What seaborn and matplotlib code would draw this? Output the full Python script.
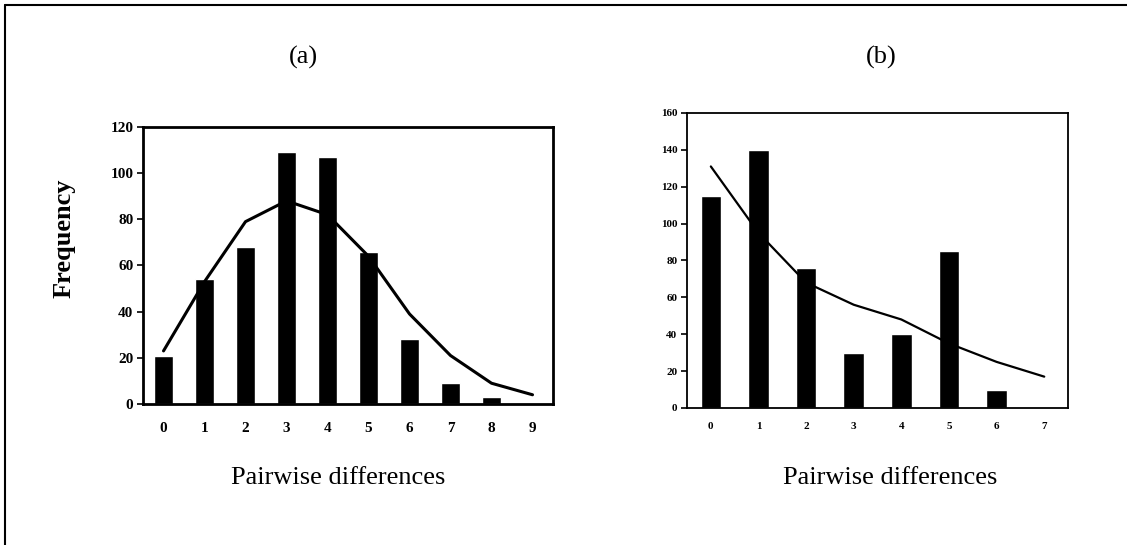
import matplotlib
matplotlib.use("Agg")
import matplotlib.pyplot as plt
from matplotlib.lines import Line2D
import seaborn as sns
import pandas as pd

# Panel (a) data
cats_a = [0, 1, 2, 3, 4, 5, 6, 7, 8, 9]
obs_a = [21, 54, 68, 109, 107, 66, 28, 9, 3, 0]
exp_a = [23, 53, 79, 88, 82, 64, 39, 21, 9, 4]
yticks_a = [0, 20, 40, 60, 80, 100, 120]

# Panel (b) data
cats_b = [0, 1, 2, 3, 4, 5, 6, 7]
obs_b = [115, 140, 76, 30, 40, 85, 10, 0]
exp_b = [131, 95, 68, 56, 48, 35, 25, 17]
yticks_b = [0, 20, 40, 60, 80, 100, 120, 140, 160]

sns.set_theme(style="white")
plt.rcParams['font.family'] = ['Liberation Serif', 'DejaVu Serif']
plt.rcParams['text.color'] = 'black'
plt.rcParams['axes.labelcolor'] = 'black'
plt.rcParams['xtick.color'] = 'black'
plt.rcParams['ytick.color'] = 'black'

fig = plt.figure(figsize=(11.27, 5.45), dpi=100)
ax_a = fig.add_axes([0.1269, 0.2587, 0.3638, 0.5083])
ax_b = fig.add_axes([0.6096, 0.2514, 0.3381, 0.5413])


def panel(ax, cats, obs, exp, yticks, bar_w, lw_line, lw_spine, tick_fs, xpad):
    df = pd.DataFrame({"x": cats, "obs": obs, "exp": exp})
    sns.barplot(data=df, x="x", y="obs", color="black", width=bar_w,
                saturation=1, ax=ax)
    sns.lineplot(x=list(range(len(cats))), y=exp, color="black",
                 linewidth=lw_line, ax=ax)
    ax.set_xlim(-0.5, len(cats) - 0.5)
    ax.set_ylim(0, yticks[-1])
    ax.set_yticks(yticks)
    ax.set_xticks(range(len(cats)))
    ax.set_xticklabels([str(c) for c in cats])
    ax.set_xlabel("")
    ax.set_ylabel("")
    for s in ax.spines.values():
        s.set_visible(True)
        s.set_color("black")
        s.set_linewidth(lw_spine)
    ax.tick_params(axis="y", which="both", left=True, length=4, width=1.2,
                   color="black", pad=3, labelsize=tick_fs)
    ax.tick_params(axis="x", which="both", bottom=False, length=0, pad=xpad,
                   labelsize=tick_fs)
    for lab in ax.get_xticklabels() + ax.get_yticklabels():
        lab.set_fontweight("bold")
        lab.set_color("black")
    ax.grid(False)
    ax.set_facecolor("white")


panel(ax_a, cats_a, obs_a, exp_a, yticks_a, 0.45, 2.2, 2.0, 11, 13)
panel(ax_b, cats_b, obs_b, exp_b, yticks_b, 0.43, 1.6, 1.3, 8, 10)

# Titles and labels
fig.text(303 / 1127, 1 - 57 / 545, "(a)", ha="center", va="center", fontsize=19)
fig.text(881 / 1127, 1 - 57 / 545, "(b)", ha="center", va="center", fontsize=19)
fig.text(338 / 1127, 1 - 478 / 545, "Pairwise differences", ha="center",
         va="center", fontsize=19)
fig.text(890 / 1127, 1 - 478 / 545, "Pairwise differences", ha="center",
         va="center", fontsize=19)
fig.text(64 / 1127, 1 - 238 / 545, "Frequency", ha="center", va="center",
         rotation=90, fontsize=19, fontweight="bold")

# Figure frame: top and left lines
fig.add_artist(Line2D([5 / 1127, 1], [1 - 4.5 / 545, 1 - 4.5 / 545],
                      transform=fig.transFigure, color="black", linewidth=1.5))
fig.add_artist(Line2D([5 / 1127, 5 / 1127], [0, 1 - 4.5 / 545],
                      transform=fig.transFigure, color="black", linewidth=1.5))

fig.savefig("out.png", dpi=100, facecolor="white")
